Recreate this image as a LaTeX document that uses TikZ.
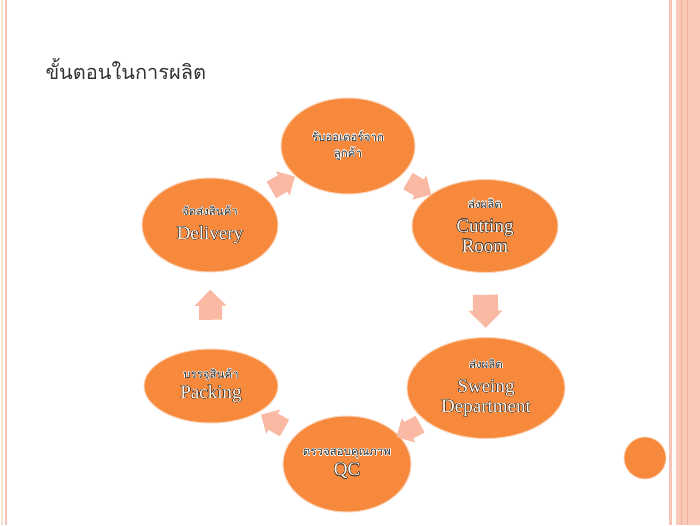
\documentclass[tikz,border=0pt]{standalone}
\usepackage{fontspec}
\setmainfont{Liberation Serif}
\newfontfamily\thaifont[Script=Thai]{Loma}
\usepackage{contour}
\usepackage{tikz}
\usetikzlibrary{shapes.geometric, shapes.arrows}
\definecolor{stepfill}{HTML}{F7893C}
\definecolor{stepedge}{HTML}{FBD3B8}
\definecolor{arrowfill}{HTML}{F9B9A2}
\definecolor{thtext}{HTML}{2E2E2E}
\definecolor{enfill}{HTML}{FFF3E6}
\definecolor{enedge}{HTML}{4A3A30}
\definecolor{bandfill}{HTML}{FAC9B7}
\definecolor{bandline}{HTML}{F0AC96}
\definecolor{leftline}{HTML}{F5C4B4}
\definecolor{beigeline}{HTML}{F3E5D2}
\contourlength{0.4pt}
\newcommand{\thline}[1]{{\thaifont\fontsize{11.5}{13}\selectfont\textcolor{thtext}{\contour{white}{#1}}}}
\newcommand{\enline}[1]{{\fontsize{19}{20}\selectfont\textcolor{enfill}{\contour{enedge}{#1}}}}

\begin{document}
\begin{tikzpicture}[x=1pt, y=-1pt,
		stepnode/.style={ellipse, fill=stepfill, draw=stepedge, line width=1pt, inner sep=0pt, align=center, font=\fontsize{18}{20}\selectfont},
		cyclearrow/.style={single arrow, fill=arrowfill, draw=none, sloped, allow upside down, inner xsep=0pt, inner ysep=8pt, single arrow head extend=4pt}]
		\useasboundingbox[fill=white] (0,0) rectangle (700,525);
		\fill[beigeline] (1,0) rectangle (3,525);
		\fill[leftline] (5,0) rectangle (7,525);
		\fill[leftline] (669,0) rectangle (672,525);
		\fill[bandfill] (676,0) rectangle (700,525);
		\draw[bandline, line width=1pt] (681,0) -- (681,525);
		\draw[bandline, line width=1pt] (687,0) -- (687,525);
		\node[anchor=west, font=\thaifont\fontsize{20}{24}\selectfont, text=black!80] (title) at (42,69) {ขั้นตอนในการผลิต};
		\node[stepnode, minimum width=134pt, minimum height=96pt, font=\fontsize{11}{16}\selectfont] (order) at (348,146) {\thline{รับออเดอร์จาก}\\\thline{ลูกค้า}};
		\node[stepnode, minimum width=146pt, minimum height=93pt] (cut) at (485,226) {\thline{ส่งผลิต}\\[4pt]\enline{Cutting}\\\enline{Room}};
		\node[stepnode, minimum width=158pt, minimum height=101pt] (sew) at (486,388) {\thline{ส่งผลิต}\\[4pt]\enline{Sweing}\\\enline{Department}};
		\node[stepnode, minimum width=128pt, minimum height=96pt] (qc) at (347,464) {\thline{ตรวจสอบคุณภาพ}\\\enline{QC}};
		\node[stepnode, minimum width=134pt, minimum height=74pt] (pack) at (211,386) {\thline{บรรจุสินค้า}\\\enline{Packing}};
		\node[stepnode, minimum width=136pt, minimum height=94pt] (deliv) at (210,225) {\thline{จัดส่งสินค้า}\\[4pt]\enline{Delivery}};
		\node[circle, fill=stepfill, draw=stepedge, line width=0.8pt, minimum size=42pt, inner sep=0pt] (dot) at (645,458) {};
		\path (deliv) -- node[cyclearrow, minimum height=27pt, minimum width=28pt] (a1) {} (order);
		\path (order) -- node[cyclearrow, minimum height=27pt, minimum width=28pt] (a2) {} (cut);
		\path (cut) -- node[cyclearrow, minimum height=33pt, minimum width=34pt, inner ysep=11pt] (a3) {} (sew);
		\path (sew) -- node[cyclearrow, minimum height=27pt, minimum width=28pt] (a4) {} (qc);
		\path (qc) -- node[cyclearrow, minimum height=27pt, minimum width=28pt] (a5) {} (pack);
		\path (pack) -- node[cyclearrow, minimum height=30pt, minimum width=32pt, inner ysep=10pt] (a6) {} (deliv);
	\end{tikzpicture}
\end{document}
